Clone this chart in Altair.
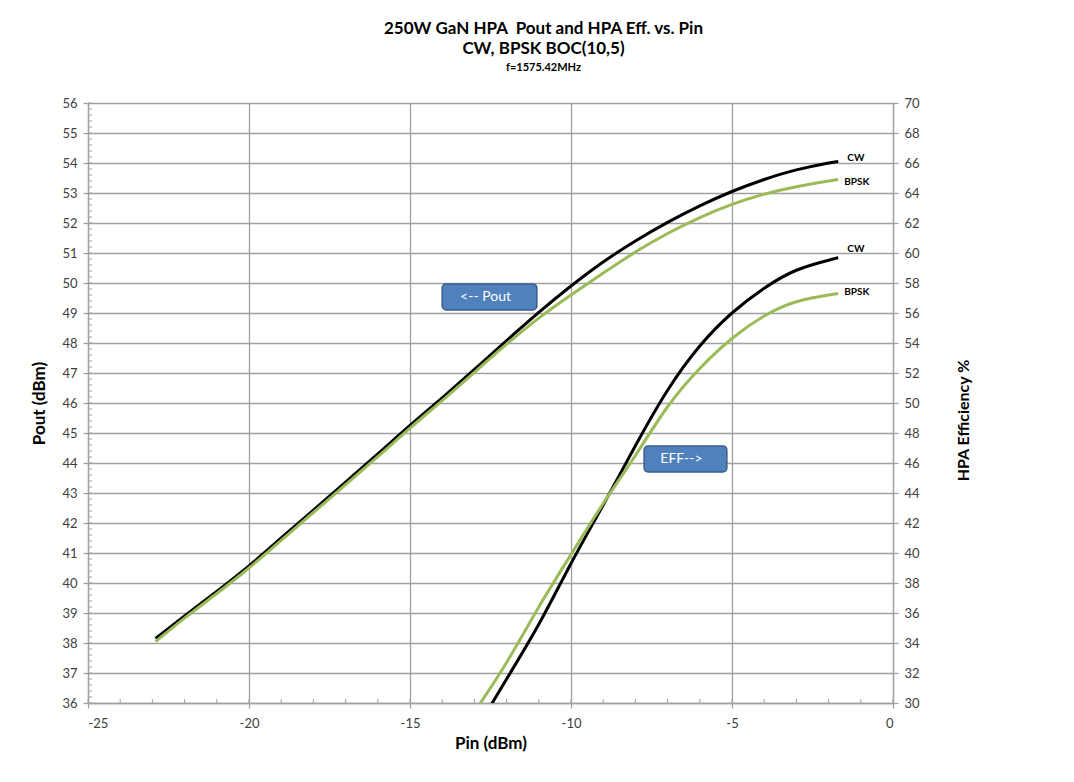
import altair as alt
import pandas as pd
import numpy as np

# ---- data ----
pin_pout = [-22.9, -22, -21, -20, -19, -18, -17, -16, -15, -14, -13, -12, -11,
            -10, -9, -8, -7, -6, -5, -4, -3, -2, -1.7]
pout_cw = [38.15, 38.9, 39.72, 40.57, 41.5, 42.43, 43.36, 44.3, 45.25, 46.17, 47.12,
           48.08, 49.02, 49.9, 50.7, 51.4, 52.02, 52.57, 53.05, 53.45, 53.77, 54.0, 54.05]
pout_bpsk = [38.05, 38.83, 39.65, 40.5, 41.42, 42.35, 43.28, 44.21, 45.16, 46.08, 47.02,
             47.96, 48.83, 49.6, 50.33, 51.03, 51.65, 52.18, 52.62, 52.96, 53.21, 53.4, 53.45]

pin_eff_cw = [-12.6, -12, -11, -10, -9, -8, -7, -6, -5, -4, -3, -2, -1.7]
eff_cw = [29.45, 31.6, 35.25, 39.3, 43.2, 47.15, 50.85, 53.8, 56.0, 57.65, 58.85, 59.52, 59.68]
pin_eff_bpsk = [-13, -12, -11, -10, -9, -8, -7, -6, -5, -4, -3, -2, -1.7]
eff_bpsk = [29.4, 32.7, 36.4, 39.9, 43.3, 46.5, 49.75, 52.3, 54.3, 55.8, 56.75, 57.2, 57.3]

series = ["CW", "BPSK"]
title_lines = ["250W GaN HPA\u00a0 Pout and HPA Eff. vs. Pin", "CW, BPSK BOC(10,5)"]
subtitle = "f=1575.42MHz"
box_labels = ["<-- Pout", "EFF-->"]

# ---- tables ----
pout_df = pd.concat([
    pd.DataFrame({"pin": pin_pout, "value": pout_cw, "series": "CW"}),
    pd.DataFrame({"pin": pin_pout, "value": pout_bpsk, "series": "BPSK"}),
])
eff_df = pd.concat([
    pd.DataFrame({"pin": pin_eff_cw, "value": eff_cw, "series": "CW"}),
    pd.DataFrame({"pin": pin_eff_bpsk, "value": eff_bpsk, "series": "BPSK"}),
])

def end_row(pins, vals, name):
    return pd.DataFrame({"pin": [pins[-1]], "value": [vals[-1]], "series": [name]})

# annotation boxes (in Pin / Pout coordinates)
box_df = pd.DataFrame({
    "x1": [-14.0, -7.73], "x2": [-11.06, -5.16],
    "y1": [49.1, 43.7], "y2": [49.97, 44.57],
    "label": box_labels,
})

minor_y = pd.DataFrame({"v": np.round(np.arange(36, 56.001, 0.2), 2)})
minor_x = pd.DataFrame({"m": np.arange(-25, 1, 1)})

FONT = "Lato"
GRID = "#a0a0a0"
LABEL = "#404040"

xs = alt.Scale(domain=[-25, 0], nice=False, zero=False)
ys_left = alt.Scale(domain=[36, 56], nice=False, zero=False)
ys_right = alt.Scale(domain=[30, 70], nice=False, zero=False)
color_scale = alt.Scale(domain=series, range=["#000000", "#9bbb59"])

x_axis = alt.Axis(values=list(range(-25, 1, 5)), title="Pin (dBm)", grid=True,
                  labelExpr="'' + datum.value",
                  gridColor=GRID, gridWidth=1.3, domainColor=GRID, domainWidth=1.3,
                  tickColor=GRID, tickSize=5, tickWidth=1.3, labelFontSize=13,
                  labelColor=LABEL, labelPadding=9, titleFontSize=17,
                  titleFontWeight="bold", titleColor="black", titlePadding=5,
                  labelFont=FONT, titleFont=FONT)
left_axis = alt.Axis(values=list(range(36, 57)), title="Pout (dBm)", grid=True,
                     gridColor=GRID, gridWidth=1.3, domainColor=GRID, domainWidth=1.3,
                     tickColor=GRID, tickSize=5, tickWidth=1.3, labelFontSize=13,
                     labelColor=LABEL, labelPadding=6, titleFontSize=17,
                     titleFontWeight="bold", titleColor="black", titlePadding=13,
                     labelFont=FONT, titleFont=FONT)
right_axis = alt.Axis(orient="right", values=list(range(30, 71, 2)),
                      title="HPA Efficiency %", grid=False, domainColor=GRID,
                      domainWidth=1.3, tickColor=GRID, tickSize=5, tickWidth=1.3,
                      labelFontSize=13, labelColor=LABEL, labelPadding=6,
                      titleFontSize=16, titleFontWeight="bold", titleColor="black",
                      titlePadding=52, titleAngle=270, titleY=317,
                      labelFont=FONT, titleFont=FONT)

X = lambda f: alt.X(f, scale=xs, axis=x_axis)
YL = lambda f: alt.Y(f, scale=ys_left, axis=left_axis)
YR = lambda f: alt.Y(f, scale=ys_right, axis=right_axis)
C = alt.Color("series:N", scale=color_scale, legend=None)

# ---- left (Pout) group ----
minor_y_layer = alt.Chart(minor_y).mark_rule(color=GRID, strokeWidth=1).encode(
    y=YL("v:Q"), x=alt.value(0), x2=alt.value(4))
minor_x_layer = alt.Chart(minor_x).mark_rule(color=GRID, strokeWidth=1).encode(
    x=X("m:Q"), y=alt.value(596), y2=alt.value(600))
pout_lines = alt.Chart(pout_df).mark_line(strokeWidth=3, interpolate="natural", clip=True).encode(
    x=X("pin:Q"), y=YL("value:Q"), color=C)
lab_kw = dict(align="left", baseline="middle", fontSize=10, fontWeight="bold", font=FONT, color="black")
pout_cw_lab = alt.Chart(end_row(pin_pout, pout_cw, "CW")).mark_text(dx=9, dy=-4, **lab_kw).encode(
    x=X("pin:Q"), y=YL("value:Q"), text="series:N")
pout_bp_lab = alt.Chart(end_row(pin_pout, pout_bpsk, "BPSK")).mark_text(dx=6, dy=2, **lab_kw).encode(
    x=X("pin:Q"), y=YL("value:Q"), text="series:N")
boxes = alt.Chart(box_df).mark_rect(cornerRadius=4, fill="#4f81bd", stroke="#385d8a",
                                    strokeWidth=1.5).encode(
    x=X("x1:Q"), x2="x2:Q", y=YL("y1:Q"), y2="y2:Q")
box_text = alt.Chart(box_df).transform_calculate(
    xm="(datum.x1 + datum.x2) / 2", ym="(datum.y1 + datum.y2) / 2"
).mark_text(color="white", fontSize=14, font=FONT, dx=-4).encode(
    x=X("xm:Q"), y=YL("ym:Q"), text="label:N")

left = alt.layer(minor_y_layer, minor_x_layer, pout_lines, pout_cw_lab, pout_bp_lab, boxes, box_text)

# ---- right (efficiency) group ----
eff_lines = alt.Chart(eff_df).mark_line(strokeWidth=3, interpolate="natural", clip=True).encode(
    x=X("pin:Q"), y=YR("value:Q"), color=C)
eff_cw_lab = alt.Chart(end_row(pin_eff_cw, eff_cw, "CW")).mark_text(dx=9, dy=-9, **lab_kw).encode(
    x=X("pin:Q"), y=YR("value:Q"), text="series:N")
eff_bp_lab = alt.Chart(end_row(pin_eff_bpsk, eff_bpsk, "BPSK")).mark_text(dx=6, dy=-2, **lab_kw).encode(
    x=X("pin:Q"), y=YR("value:Q"), text="series:N")
right = alt.layer(eff_lines, eff_cw_lab, eff_bp_lab)

chart = alt.layer(left, right).resolve_scale(y="independent").properties(
    width=805, height=600,
    autosize=alt.AutoSizeParams(type="none"),
    padding={"left": 80, "top": 95, "right": 173, "bottom": 71},
    title=alt.TitleParams(text=title_lines, subtitle=subtitle, anchor="middle", dx=53,
                          offset=23, fontSize=17, fontWeight="bold", font=FONT,
                          color="black", lineHeight=20, subtitleFontSize=11,
                          subtitleFontWeight="bold", subtitleFont=FONT,
                          subtitleColor="black", subtitlePadding=4),
).configure_view(stroke=None).configure(background="white")

chart.save("out.html", embed_options={"renderer": "svg", "actions": False})
